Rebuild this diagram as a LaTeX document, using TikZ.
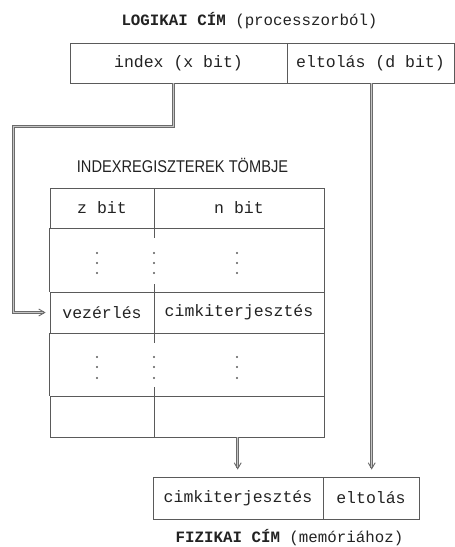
\documentclass[tikz,border=0pt]{standalone}
\usepackage{fontspec}
\setmonofont{Liberation Mono}
\setsansfont{Liberation Sans}
\newfontfamily\condsans[FakeStretch=0.86]{Liberation Sans}
\usetikzlibrary{arrows.meta}
\definecolor{ln}{HTML}{5A5A5A}
\definecolor{tx}{HTML}{222222}
\tikzset{
  cell/.style={draw=ln, line width=0.8pt, rectangle, inner sep=0pt, text=tx, font=\ttfamily\fontsize{16.5}{18}\selectfont},
  title/.style={text=tx, font=\ttfamily\fontsize{15.8}{18}\selectfont},
  conn/.style={draw=ln!90, line width=0.9pt, double=ln!35, double distance=1.1pt},
  tip/.style={-{Straight Barb[length=6pt,width=7pt,line width=0.9pt]}},
  vdots/.style={fill=ln, circle, inner sep=0.75pt}
}
\begin{document}
\begin{tikzpicture}[x=1pt,y=-1pt]
\useasboundingbox (0,0) rectangle (455,547);
% title
\node[title] (t1) at (249.5,21) {\textbf{LOGIKAI CÍM} (processzorból)};
% logical address
\node[cell, minimum width=217pt, minimum height=40pt] (idx) at (178.5,63) {index (x bit)};
\node[cell, minimum width=167pt, minimum height=40pt] (off) at (370.5,63) {eltolás (d bit)};
% table title
\node[text=tx, font=\condsans\fontsize{17}{19}\selectfont] (t2) at (182.5,165) {INDEXREGISZTEREK TÖMBJE};
% table cells
\node[cell, minimum width=104pt, minimum height=40pt] (r1a) at (102,208) {z bit};
\node[cell, minimum width=170pt, minimum height=40pt] (r1b) at (239,208) {n bit};
\node[cell, minimum width=104pt, minimum height=41pt] (r3a) at (102,312.5) {vezérlés};
\node[cell, minimum width=170pt, minimum height=41pt] (r3b) at (239,312.5) {cimkiterjesztés};
\node[cell, minimum width=104pt, minimum height=41pt] (r5a) at (102,416.5) {};
\node[cell, minimum width=170pt, minimum height=41pt] (r5b) at (239,416.5) {};
% outer sides of dotted rows
\draw[ln, line width=0.8pt] (r1a.south west) -- (r3a.north west);
\draw[ln, line width=0.8pt] (r1b.south east) -- (r3b.north east);
\draw[ln, line width=0.8pt] (r3a.south west) -- (r5a.north west);
\draw[ln, line width=0.8pt] (r3b.south east) -- (r5b.north east);
% divider stubs
\draw[ln, line width=0.8pt] (r1a.south east) -- ++(0,10);
\draw[ln, line width=0.8pt] (r3a.north east) -- ++(0,-8);
\draw[ln, line width=0.8pt] (r3a.south east) -- ++(0,10);
\draw[ln, line width=0.8pt] (r5a.north east) -- ++(0,-9);
% dots
\foreach \x in {97,154,237}{
  \foreach \y in {253,263,273,357,367,378}{
    \node[vdots] at (\x,\y) {};
  }
}
% physical address
\node[cell, minimum width=170pt, minimum height=42pt] (cim) at (238,498) {cimkiterjesztés};
\node[cell, minimum width=96pt, minimum height=42pt] (elt) at (371,498) {eltolás};
\node[title] (t3) at (289.5,538) {\textbf{FIZIKAI CÍM} (memóriához)};
% connectors
\coordinate (k1) at (13.3,126.3);
\draw[conn, tip, shorten >=4pt] ([xshift=-5pt]idx.south) |- (k1) |- (r3a.west);
\draw[conn, tip, shorten >=7pt] ([xshift=1.2pt]off.south) -- ([xshift=0.7pt]elt.north);
\draw[conn, tip, shorten >=7pt] ([xshift=-1.3pt]r5b.south) -- ([xshift=-0.3pt]cim.north);
\end{tikzpicture}
\end{document}
